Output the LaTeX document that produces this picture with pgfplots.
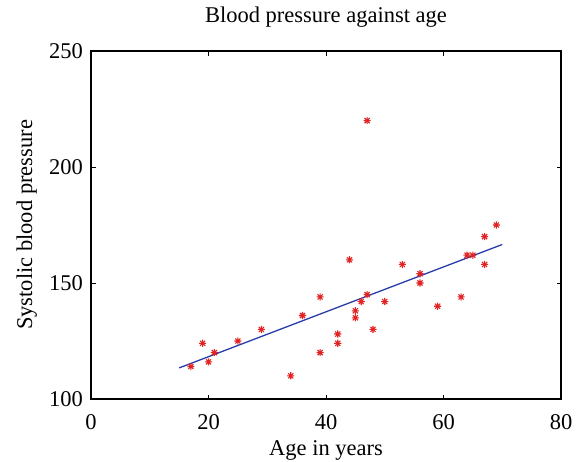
\documentclass[border=0pt]{standalone}
\usepackage{fontspec}
\setmainfont{Liberation Serif}
\usepackage{pgfplots}
\pgfplotsset{compat=1.18}
\definecolor{ptred}{RGB}{225,35,35}
\definecolor{lnblue}{RGB}{40,60,170}
\pgfdeclareplotmark{star8}{%
  \pgfpathmoveto{\pgfqpoint{-\pgfplotmarksize}{0pt}}\pgfpathlineto{\pgfqpoint{\pgfplotmarksize}{0pt}}%
  \pgfpathmoveto{\pgfqpoint{0pt}{-\pgfplotmarksize}}\pgfpathlineto{\pgfqpoint{0pt}{\pgfplotmarksize}}%
  \pgfpathmoveto{\pgfqpoint{-0.707\pgfplotmarksize}{-0.707\pgfplotmarksize}}\pgfpathlineto{\pgfqpoint{0.707\pgfplotmarksize}{0.707\pgfplotmarksize}}%
  \pgfpathmoveto{\pgfqpoint{-0.707\pgfplotmarksize}{0.707\pgfplotmarksize}}\pgfpathlineto{\pgfqpoint{0.707\pgfplotmarksize}{-0.707\pgfplotmarksize}}%
  \pgfusepathqstroke}
\begin{document}
\fontsize{22.5}{27}\selectfont
\begin{tikzpicture}
\begin{axis}[
  scale only axis,
  width=470pt, height=348pt,
  xmin=0, xmax=80, ymin=100, ymax=250,
  xtick={0,20,40,60,80}, ytick={100,150,200,250},
  xticklabels={0,20,40,60,80}, yticklabels={100,150,200,250},
  tick align=inside,
  major tick length=4.5pt,
  every tick/.style={black, line width=0.9pt},
  axis line style={line width=1.1pt},
  xticklabel style={anchor=base, yshift=-30pt},
  yticklabel style={anchor=east, inner sep=0pt, xshift=-8pt},
  title={Blood pressure against age},
  title style={at={(axis description cs:0.5,1.066)}, anchor=base},
  xlabel={Age in years},
  xlabel style={at={(axis description cs:0.5,-0.161)}, anchor=base},
  ylabel={Systolic blood pressure},
  ylabel style={at={(axis description cs:-0.1255,0.5)}, anchor=base, rotate=0},
  clip=false,
]
\addplot[only marks, mark=star8, mark size=3.6pt, color=ptred, line width=1.1pt]
coordinates {
(17,114)(19,124)(20,116)(21,120)(25,125)(29,130)(34,110)(36,136)
(39,144)(39,120)(42,128)(42,124)(44,160)(45,138)(45,135)(46,142)
(47,145)(47,220)(48,130)(50,142)(53,158)(56,154)(56,150)(59,140)
(63,144)(64,162)(65,162)(67,170)(67,158)(69,175)
};
\addplot[lnblue, line width=1.3pt] coordinates {(15,113.4)(70,166.6)};
\path (rel axis cs:0,0) ++(-91pt,-62pt) coordinate (bl);
\path (rel axis cs:1,1) ++(24pt,51pt) coordinate (tr);
\end{axis}
\pgfresetboundingbox
\useasboundingbox (bl) rectangle (tr);
\end{tikzpicture}
\end{document}
